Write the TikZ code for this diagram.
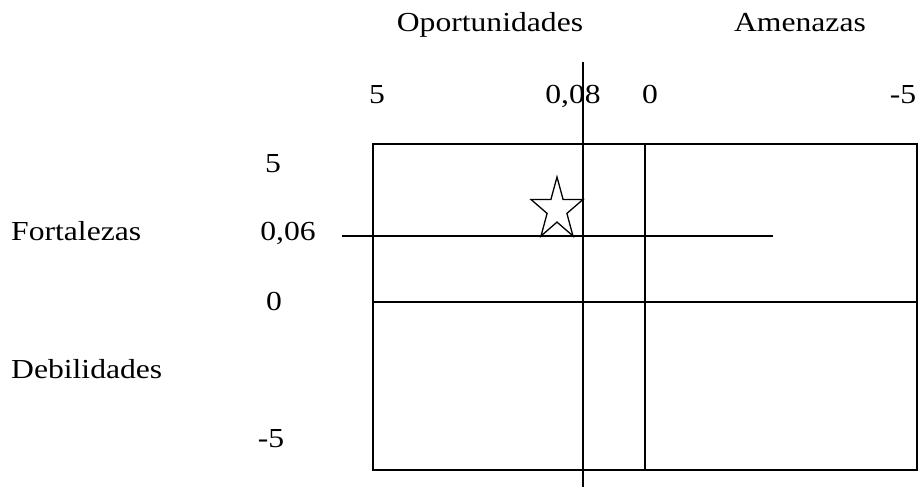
\documentclass[tikz,border=0pt]{standalone}
\usepackage{fontspec}
\setmainfont{Liberation Serif}
\newcommand\wtxt[1]{\scalebox{1.15}[1]{#1}}
\begin{document}
\begin{tikzpicture}[x=1pt,y=-1pt,
  lab/.style={inner sep=0pt,font=\fontsize{27.5}{32}\selectfont},
  ln/.style={line width=1.8pt,black}]
\useasboundingbox (0,0) rectangle (919,487);
% texts
\node[lab,anchor=base] (op) at (490,32) {\wtxt{Oportunidades}};
\node[lab,anchor=base] (am) at (800,32) {\wtxt{Amenazas}};
\node[lab,anchor=base] (x5) at (377,103) {\wtxt{5}};
\node[lab,anchor=base] (x008) at (573,103) {\wtxt{0,08}};
\node[lab,anchor=base] (x0) at (650,103) {\wtxt{0}};
\node[lab,anchor=base] (xm5) at (903,103) {\wtxt{-5}};
\node[lab,anchor=base west] (fo) at (11,240) {\wtxt{Fortalezas}};
\node[lab,anchor=base west] (de) at (11,378) {\wtxt{Debilidades}};
\node[lab,anchor=base] (y5) at (273,172) {\wtxt{5}};
\node[lab,anchor=base] (y006) at (288,240) {\wtxt{0,06}};
\node[lab,anchor=base] (y0) at (274,310) {\wtxt{0}};
\node[lab,anchor=base] (ym5) at (271,447) {\wtxt{-5}};
% grid
\coordinate (tl) at (373,144);
\coordinate (br) at (917,470);
\draw[ln] (tl) rectangle (br);
\coordinate (ml) at (373,302);
\coordinate (mr) at (917,302);
\draw[ln] (ml) -- (mr);
\coordinate (vt) at (645,144);
\coordinate (vb) at (645,470);
\draw[ln] (vt) -- (vb);
\coordinate (at) at (583,62);
\coordinate (ab) at (583,487);
\draw[ln] (at) -- (ab);
\coordinate (hl) at (342,236);
\coordinate (hr) at (773,236);
\draw[ln] (hl) -- (hr);
% star
\draw[line width=1.3pt] (557,177) -- (563.1,199.5) -- (583,199.5) -- (566.9,213.4) -- (573,236)
  -- (557,222.1) -- (541,236) -- (547.1,213.4) -- (531,199.5) -- (550.9,199.5) -- cycle;
\end{tikzpicture}
\end{document}
